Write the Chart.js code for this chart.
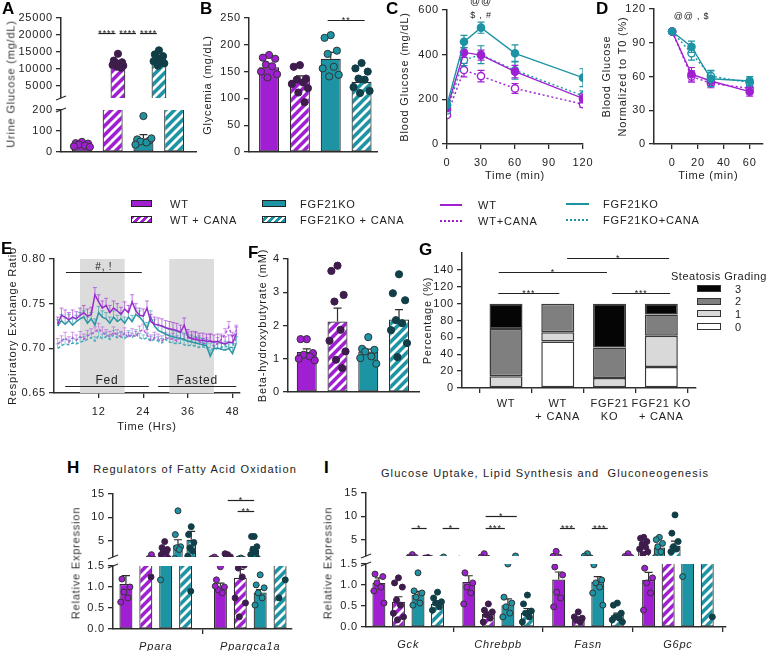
<!DOCTYPE html>
<html>
<head>
<meta charset="utf-8">
<title>FGF21KO and canagliflozin</title>
<script src="https://cdn.jsdelivr.net/npm/chart.js@4.4.1/dist/chart.umd.min.js"></script>
<style>
  body { margin: 0; background: #fff; }
  #fig { position: relative; width: 768px; height: 651px; overflow: hidden; font-family: "Liberation Sans", Arial, sans-serif; color: #222; }
  #fig canvas { position: absolute; }
  .t { position: absolute; white-space: nowrap; font-size: 11px; line-height: 1; letter-spacing: 0.8px; }
  .lt { position: absolute; font-size: 17px; font-weight: bold; line-height: 1; color: #000; }
  .sw { position: absolute; box-sizing: border-box; }
</style>
</head>
<body>
<div id="fig"></div>
<script>
// ---------- data ----------
const GROUPS = ['WT', 'WT + CANA', 'FGF21KO', 'FGF21KO + CANA'];

// A - urine glucose (mg/dL)
const urineMean = [30, 11500, 65, 12800];
const urineSem = [6, 550, 18, 480];
const urineDots = [
  [48, 42, 40, 35, 30, 27, 24],
  [14500, 12500, 12000, 11800, 11500, 11200, 11000, 10700, 10400],
  [171, 60, 55, 50, 45, 35, 65],
  [15500, 14300, 13800, 13200, 12800, 12300, 11700, 11000, 12600]
];

// B - glycemia (mg/dL)
const glyMean = [158, 135, 174, 131];
const glySem = [7, 7, 12, 8];
const glyDots = [
  [181, 176, 174, 163, 160, 150, 145, 139],
  [162, 159, 137, 135, 130, 127, 119, 111, 93],
  [218, 213, 189, 183, 159, 156, 144, 141],
  [166, 156, 150, 137, 135, 121, 114, 110]
];

// C - glucose tolerance (mg/dL)
const gttTime = [0, 15, 30, 60, 120];
const gttWT = [160, 410, 398, 324, 204];
const gttWTCana = [130, 331, 304, 249, 178];
const gttKO = [175, 458, 521, 406, 297];
const gttKOCana = [150, 376, 400, 330, 216];
const gttWTSem = [10, 22, 22, 28, 20];
const gttWTCanaSem = [10, 30, 26, 22, 14];
const gttKOSem = [10, 28, 25, 38, 40];
const gttKOCanaSem = [10, 25, 40, 40, 22];

// D - normalized to T0 (%)
const normTime = [0, 15, 30, 60];
const normWT = [100, 62, 56, 46.5];
const normWTCana = [100, 60, 54, 49.5];
const normKO = [100, 86.5, 58, 56];
const normKOCana = [100, 80.6, 60.4, 54.5];
const normWTSem = [0, 6, 4, 4];
const normWTCanaSem = [0, 5, 4, 4];
const normKOSem = [0, 5, 7, 4];
const normKOCanaSem = [0, 6, 5, 4];

// E - respiratory exchange ratio, hourly
const ereHours = [1, 2, 3, 4, 5, 6, 7, 8, 9, 10, 11, 12, 13, 14, 15, 16, 17, 18, 19, 20, 21, 22, 23, 24, 25,
  26, 27, 28, 29, 30, 31, 32, 33, 34, 35, 36, 37, 38, 39, 40, 41, 42, 43, 44, 45, 46, 47, 48, 49];
const ereWT = [0.727, 0.737, 0.735, 0.732, 0.735, 0.733, 0.737, 0.740, 0.736, 0.738,
  0.760, 0.752, 0.745, 0.748, 0.740, 0.745, 0.742, 0.738, 0.744, 0.740,
  0.752, 0.742, 0.737, 0.736, 0.745, 0.730, 0.727, 0.726, 0.725, 0.723,
  0.722, 0.721, 0.720, 0.718, 0.726, 0.713, 0.711, 0.710, 0.709, 0.709,
  0.708, 0.708, 0.707, 0.708, 0.706, 0.705, 0.707, 0.706, 0.716];
const ereKO = [0.725, 0.731, 0.727, 0.731, 0.726, 0.730, 0.733, 0.735, 0.728, 0.733,
  0.726, 0.740, 0.735, 0.733, 0.728, 0.735, 0.730, 0.733, 0.728, 0.735,
  0.730, 0.738, 0.735, 0.730, 0.722, 0.735, 0.725, 0.720, 0.718, 0.716,
  0.714, 0.713, 0.712, 0.711, 0.710, 0.708, 0.707, 0.706, 0.705, 0.704,
  0.703, 0.691, 0.700, 0.700, 0.699, 0.698, 0.700, 0.694, 0.706];
const ereWTCana = [0.705, 0.708, 0.712, 0.707, 0.712, 0.709, 0.713, 0.710, 0.714, 0.716,
  0.718, 0.722, 0.718, 0.715, 0.713, 0.718, 0.715, 0.713, 0.717, 0.712,
  0.716, 0.713, 0.719, 0.721, 0.715, 0.709, 0.712, 0.710, 0.708, 0.712,
  0.710, 0.711, 0.708, 0.712, 0.710, 0.712, 0.710, 0.713, 0.708, 0.705,
  0.706, 0.710, 0.702, 0.706, 0.710, 0.716, 0.724, 0.712, 0.720];
const ereKOCana = [0.700, 0.703, 0.705, 0.704, 0.706, 0.705, 0.707, 0.708, 0.710, 0.712,
  0.708, 0.714, 0.711, 0.713, 0.710, 0.715, 0.712, 0.713, 0.711, 0.715,
  0.712, 0.716, 0.712, 0.710, 0.712, 0.708, 0.710, 0.708, 0.706, 0.710,
  0.707, 0.706, 0.705, 0.706, 0.704, 0.703, 0.704, 0.702, 0.701, 0.702,
  0.700, 0.701, 0.698, 0.700, 0.701, 0.703, 0.700, 0.702, 0.712];
const ereSem = [0.008, 0.006, 0.007, 0.005]; // WT, WT+CANA, KO, KO+CANA
const darkPhases = [[7, 19], [31, 43]];

// F - beta-hydroxybutyrate (mM)
const bhbMean = [1.2, 2.12, 1.22, 2.18];
const bhbSem = [0.1, 0.4, 0.07, 0.3];
const bhbDots = [
  [1.59, 1.59, 1.17, 1.12, 1.07, 1.0, 0.95],
  [3.8, 3.64, 2.92, 2.72, 1.87, 1.54, 1.22, 0.97, 0.72],
  [1.65, 1.3, 1.27, 1.22, 1.07, 1.02, 0.85],
  [3.54, 2.97, 2.76, 2.16, 2.07, 1.86, 1.47, 1.05]
];

// G - steatosis grading (%)
const steatosisGroups = [['WT'], ['WT', '+ CANA'], ['FGF21', 'KO'], ['FGF21 KO', '+ CANA']];
const gradeNames = ['0', '1', '2', '3'];
const grade0 = [0, 55, 0, 25];
const grade1 = [14, 11, 12, 37];
const grade2 = [56, 34, 36, 25];
const grade3 = [30, 0, 52, 13];

// H - fatty acid oxidation genes, [group][gene]
const faoGenes = ['Ppara', 'Ppargca1a'];
const faoMean = [[1.07, 1.02], [2.7, 1.22], [4.0, 0.87], [5.2, 3.0]];
const faoSem = [[0.2, 0.07], [0.5, 0.2], [1.2, 0.07], [1.8, 0.7]];
const faoDots = [
  [[2.0, 1.19, 1.0, 0.88, 0.74, 0.64], [1.48, 1.17, 1.0, 0.93, 0.86, 1.02]],
  [[4.8, 3.5, 3.1, 2.8, 2.5, 2.0, 1.24], [2.0, 2.2, 1.52, 1.45, 1.24, 0.74, 0.62, 0.29]],
  [[11.4, 6.3, 3.7, 3.5, 3.1, 1.17], [1.29, 1.05, 0.98, 0.86, 0.74, 0.57]],
  [[8.0, 6.3, 4.6, 3.5, 2.8, 1.7, 0.9], [5.9, 5.9, 3.7, 3.1, 2.5, 2.0, 1.17, 0.74]]
];

// I - glucose uptake / lipid synthesis / gluconeogenesis genes, [group][gene]
const gluGenes = ['Gck', 'Chrebpb', 'Fasn', 'G6pc'];
const gluMean = [[1.05, 1.07, 1.13, 1.12], [0.6, 0.31, 0.2, 3.6], [0.77, 0.52, 1.07, 3.3], [0.55, 0.34, 0.28, 3.7]];
const gluSem = [[0.12, 0.15, 0.18, 0.18], [0.12, 0.05, 0.04, 0.5], [0.08, 0.15, 0.13, 0.6], [0.07, 0.1, 0.05, 1.0]];
const gluDots = [
  [[1.8, 1.26, 1.2, 1.05, 0.95, 0.86, 0.57], [2.0, 1.29, 1.05, 0.95, 0.81, 0.55], [2.5, 1.43, 1.24, 0.83, 0.69, 0.48], [2.0, 1.4, 1.17, 1.05, 0.81, 0.4]],
  [[1.17, 1.05, 0.95, 0.64, 0.52, 0.33, 0.24, 0.17], [0.55, 0.4, 0.36, 0.29, 0.21, 0.12], [0.36, 0.24, 0.21, 0.17, 0.12], [5.5, 5.3, 4.6, 4.0, 3.5, 3.0, 2.4, 1.9]],
  [[1.29, 0.86, 0.81, 0.71, 0.57, 0.52], [1.5, 0.71, 0.57, 0.48, 0.33, 0.24], [2.0, 1.48, 1.12, 1.05, 0.95, 0.81, 0.52], [5.5, 5.0, 4.2, 3.5, 2.4, 1.2]],
  [[0.83, 0.69, 0.6, 0.57, 0.48, 0.4], [0.76, 0.55, 0.38, 0.33, 0.24, 0.12], [0.57, 0.52, 0.33, 0.24, 0.21, 0.17, 0.12], [10.3, 6.4, 4.6, 3.5, 3.0, 2.4, 0.24]]
];

// ---------- style ----------
const FONT = '"Liberation Sans", Arial, sans-serif';
const INK = '#2d2d2d';
const PURPLE = '#a11fd2', TEAL = '#1c94a4';
const fig = document.getElementById('fig');

Chart.defaults.font.family = FONT;
Chart.defaults.font.size = 11;
Chart.defaults.color = '#222';
Chart.defaults.plugins.legend.display = false;
Chart.defaults.plugins.tooltip.enabled = false;

function hatch(color) {
  const c = document.createElement('canvas');
  c.width = c.height = 9;
  const g = c.getContext('2d');
  g.fillStyle = color; g.fillRect(0, 0, 9, 9);
  g.strokeStyle = '#fff'; g.lineWidth = 2.8;
  g.beginPath();
  g.moveTo(-1, 10); g.lineTo(10, -1);
  g.moveTo(-5, 5); g.lineTo(5, -5);
  g.moveTo(4, 14); g.lineTo(14, 4);
  g.stroke();
  return g.createPattern(c, 'repeat');
}
const FILL = [PURPLE, hatch(PURPLE), TEAL, hatch(TEAL)];
const DOT = [PURPLE, '#3e1d4c', TEAL, '#113e47'];
const DOT_EDGE = ['#333', '#3e1d4c', '#333', '#113e47'];
const JIT = [0, -0.2, 0.2, -0.1, 0.1, -0.26, 0.26, -0.05, 0.15];

// wider letter spacing like the original export
Chart.register({
  id: 'spacing',
  beforeLayout(c) { c.ctx.letterSpacing = '0.8px'; },
  beforeDraw(c) { c.ctx.letterSpacing = '0.8px'; }
});

function drawErr(chart, meta, ds) {
  if (ds.err == null) return;
  const { ctx, chartArea: a } = chart, ys = chart.scales.y;
  ctx.save();
  ctx.beginPath(); ctx.rect(a.left, a.top, a.right - a.left, a.bottom - a.top); ctx.clip();
  ctx.strokeStyle = ds.errColor || INK; ctx.lineWidth = ds.errWidth || 1.2;
  const cap = ds.cap || 4;
  meta.data.forEach((el, i) => {
    const e = Array.isArray(ds.err) ? ds.err[i] : ds.err;
    if (!e) return;
    const v = ds.data[i].y, x = el.x;
    const hi = ys.getPixelForValue(v + e), lo = ys.getPixelForValue(ds.errUp ? v : v - e);
    ctx.beginPath();
    ctx.moveTo(x, hi); ctx.lineTo(x, lo);
    ctx.moveTo(x - cap, hi); ctx.lineTo(x + cap, hi);
    if (!ds.errUp) { ctx.moveTo(x - cap, lo); ctx.lineTo(x + cap, lo); }
    ctx.stroke();
  });
  ctx.restore();
}
Chart.register({
  id: 'errorBars',
  beforeDatasetDraw(chart, args) { if (args.meta.type !== 'bar') drawErr(chart, args.meta, chart.data.datasets[args.index]); },
  afterDatasetDraw(chart, args) { if (args.meta.type === 'bar') drawErr(chart, args.meta, chart.data.datasets[args.index]); }
});

// significance bars / free labels, in data units
function notes(lines, labels = []) {
  return {
    id: 'notes',
    afterDatasetsDraw(chart) {
      const { ctx } = chart, xs = chart.scales.x, ys = chart.scales.y;
      ctx.save();
      ctx.letterSpacing = '0.8px';
      ctx.strokeStyle = '#222'; ctx.fillStyle = '#222'; ctx.lineWidth = 1.2;
      ctx.textAlign = 'center'; ctx.textBaseline = 'alphabetic';
      lines.forEach(([x1, x2, y, t, size]) => {
        const p1 = xs.getPixelForValue(x1), p2 = xs.getPixelForValue(x2);
        const py = Math.round(ys.getPixelForValue(y)) + 0.5;
        ctx.beginPath(); ctx.moveTo(p1, py); ctx.lineTo(p2, py); ctx.stroke();
        if (t) {
          ctx.font = `${size || 9}px ${FONT}`;
          ctx.fillText(t, (p1 + p2) / 2, /^\*+$/.test(t) ? py + 2 : py - 3);
        }
      });
      ctx.textBaseline = 'middle';
      labels.forEach(([x, y, t, size]) => {
        ctx.font = `${size || 10}px ${FONT}`;
        ctx.fillText(t, xs.getPixelForValue(x), ys.getPixelForValue(y));
      });
      ctx.restore();
    }
  };
}

function breakMark(where) {
  return {
    id: 'breakMark',
    afterDraw(chart) {
      const { ctx, chartArea: a } = chart;
      const y = where === 'bottom' ? a.bottom : a.top;
      ctx.save(); ctx.strokeStyle = INK; ctx.lineWidth = 1.3;
      ctx.beginPath(); ctx.moveTo(a.left - 5, y + 2); ctx.lineTo(a.left + 5, y - 2); ctx.stroke();
      ctx.restore();
    }
  };
}

function bands(ranges, color) {
  return {
    id: 'bands',
    beforeDatasetsDraw(chart) {
      const { ctx, chartArea: a, scales: { x } } = chart;
      ctx.save(); ctx.fillStyle = color;
      ranges.forEach(([s, e]) => {
        const p1 = x.getPixelForValue(s), p2 = x.getPixelForValue(e);
        ctx.fillRect(p1, a.top, p2 - p1, a.bottom - a.top);
      });
      ctx.restore();
    }
  };
}

// ---------- layout helpers ----------
function place(box, m) {
  const [l, t, r, b] = box;
  const cv = document.createElement('canvas');
  const w = r - l + m.l + m.r, h = b - t + m.t + m.b;
  cv.width = w; cv.height = h;
  cv.style.left = (l - m.l) + 'px'; cv.style.top = (t - m.t) + 'px';
  cv.style.width = w + 'px'; cv.style.height = h + 'px';
  fig.appendChild(cv);
  return cv;
}

function mk(box, m, cfg, xHidden) {
  const cv = place(box, m);
  Object.assign(cfg.options, {
    responsive: false, animation: false, devicePixelRatio: 1,
    layout: { padding: { left: 0, top: m.t, right: m.r, bottom: xHidden ? m.b : 0 } }
  });
  return new Chart(cv, cfg);
}

function yAxis(min, max, ticks, fmt, width, title, extra) {
  return Object.assign({
    type: 'linear', min, max,
    afterBuildTicks: s => { s.ticks = ticks.map(v => ({ value: v })); },
    afterFit: s => { s.width = width; },
    ticks: { callback: v => fmt(v), padding: 3, color: '#222', font: { size: 11 } },
    grid: { drawOnChartArea: false, tickLength: 5, color: INK, lineWidth: 1.3 },
    border: { color: INK, width: 1.5 },
    title: title ? { display: true, text: title, padding: 0, color: '#222', font: { size: 11 } } : { display: false }
  }, extra || {});
}

function xAxis(min, max, tickVals, labels, height, pad, extra) {
  return Object.assign({
    type: 'linear', min, max, offset: false,
    afterBuildTicks: s => { s.ticks = tickVals.map(v => ({ value: v })); },
    afterFit: s => { s.height = height; },
    ticks: { callback: (v, i) => labels[i], padding: pad, color: '#222', maxRotation: 0, autoSkip: false, font: { size: 11 } },
    grid: { drawOnChartArea: false, tickLength: 5, color: INK, lineWidth: 1.3 },
    border: { color: INK, width: 1.5 }
  }, extra || {});
}

function xBare(min, max, height) {
  return {
    type: 'linear', min, max, offset: false,
    afterFit: s => { s.height = height; },
    ticks: { display: false }, grid: { display: false },
    border: { color: INK, width: 1.5 }
  };
}

// bars (mean) + individual animals, grouped by gene
function barPanel(o) {
  const pos = (g, j) => g * (o.gap || 0) + j;
  const datasets = [];
  GROUPS.forEach((name, j) => {
    datasets.push({
      type: 'bar', label: name, order: 2, grouped: false, maxBarThickness: o.barW, clip: 0,
      data: o.mean[j].map((v, g) => ({ x: pos(g, j), y: v })), err: o.sem[j], errUp: true,
      backgroundColor: FILL[j], borderColor: INK, borderWidth: 1.2, borderSkipped: false
    });
  });
  GROUPS.forEach((name, j) => {
    datasets.push({
      type: 'scatter', label: name + ' animals', order: 1, clip: 0,
      data: o.dots[j].flatMap((vals, g) => vals.map((v, i) => ({ x: pos(g, j) + JIT[i % JIT.length], y: v }))),
      pointRadius: o.r, pointBackgroundColor: DOT[j], pointBorderColor: DOT_EDGE[j], pointBorderWidth: 1
    });
  });
  const x = o.genes
    ? xAxis(o.xMin, o.xMax, o.genes.map((_, g) => pos(g, 1.5)), o.genes, o.m.b, 6,
        { ticks: { callback: (v, i) => o.genes[i], padding: 6, color: '#222', maxRotation: 0, autoSkip: false, font: { size: 11, style: 'italic' } } })
    : o.xHidden ? { type: 'linear', min: o.xMin, max: o.xMax, display: false } : xBare(o.xMin, o.xMax, o.m.b);
  const plugins = [notes(o.sig || [])];
  if (o.brk) plugins.push(breakMark(o.brk));
  return mk(o.box, o.m, {
    type: 'bar',
    data: { datasets },
    options: { scales: { x, y: yAxis(o.y[0], o.y[1], o.y[2], o.fmt || (v => v), o.m.l, o.title) } },
    plugins
  }, o.xHidden);
}

function lineDs(label, xs, ys, err, color, open) {
  return {
    label, data: xs.map((x, i) => ({ x, y: ys[i] })), err, errColor: color, cap: 3.5,
    borderColor: color, borderWidth: 1.4, borderDash: open ? [2, 2.5] : [], tension: 0,
    pointRadius: 3.6, pointBorderWidth: 1.4, pointBorderColor: color,
    pointBackgroundColor: open ? '#fff' : color
  };
}

// ---------- A ----------
const A = { xMin: -0.68, xMax: 3.71, barW: 20, r: 3.6,
  mean: urineMean.map(v => [v]), sem: urineSem.map(v => [v]), dots: urineDots.map(a => [a]) };
barPanel(Object.assign({}, A, {
  box: [61, 18, 197, 98], m: { l: 50, t: 12, r: 4, b: 12 }, xHidden: true, brk: 'bottom',
  y: [1500, 25000, [5000, 10000, 15000, 20000, 25000]],
  sig: [[0.05, 0.88, 20600, '****'], [1.08, 1.88, 20600, '****'], [2.08, 2.9, 20600, '****']]
}));
barPanel(Object.assign({}, A, {
  box: [61, 110, 197, 152], m: { l: 50, t: 12, r: 4, b: 12 }, brk: 'top',
  y: [0, 200, [0, 50, 100, 150, 200]]
}));

// ---------- B ----------
barPanel({
  box: [249, 18, 378, 152], m: { l: 48, t: 12, r: 4, b: 12 }, xMin: -0.65, xMax: 3.5, barW: 20, r: 3.6,
  mean: glyMean.map(v => [v]), sem: glySem.map(v => [v]), dots: glyDots.map(a => [a]),
  y: [0, 250, [0, 50, 100, 150, 200, 250]], title: 'Glycemia (mg/dL)',
  sig: [[1.9, 3.1, 247, '**']]
});

// ---------- C ----------
mk([447, 10, 583, 144], { l: 49, t: 12, r: 18, b: 39 }, {
  type: 'line',
  data: { datasets: [
    lineDs('FGF21KO', gttTime, gttKO, gttKOSem, TEAL, false),
    lineDs('WT', gttTime, gttWT, gttWTSem, PURPLE, false),
    lineDs('FGF21KO+CANA', gttTime, gttKOCana, gttKOCanaSem, TEAL, true),
    lineDs('WT+CANA', gttTime, gttWTCana, gttWTCanaSem, PURPLE, true)
  ] },
  options: { scales: {
    x: xAxis(0, 120, [0, 30, 60, 90, 120], ['0', '30', '60', '90', '120'], 39, 7,
      { title: { display: true, text: 'Time (min)', padding: 0, color: '#222', font: { size: 11 } } }),
    y: yAxis(0, 600, [0, 200, 400, 600], v => v, 49, 'Blood Glucose (mg/dL)')
  } },
  plugins: [notes([], [[30, 640, '@@', 10], [30, 575, '$ , #', 9]])]
});

// ---------- D ----------
mk([654, 9, 767, 144], { l: 55, t: 12, r: 1, b: 39 }, {
  type: 'line',
  data: { datasets: [
    lineDs('FGF21KO', normTime, normKO, normKOSem, TEAL, false),
    lineDs('WT', normTime, normWT, normWTSem, PURPLE, false),
    lineDs('FGF21KO+CANA', normTime, normKOCana, normKOCanaSem, TEAL, true),
    lineDs('WT+CANA', normTime, normWTCana, normWTCanaSem, PURPLE, true)
  ] },
  options: { scales: {
    x: xAxis(-14, 70, [0, 20, 40, 60], ['0', '20', '40', '60'], 39, 7,
      { title: { display: true, text: 'Time (min)', padding: 0, color: '#222', font: { size: 11 } } }),
    y: yAxis(0, 120, [0, 30, 60, 90, 120], v => v, 55, null,
      { title: { display: true, text: ['Blood Glucose', 'Normalized to T0 (%)'], padding: 0, color: '#222', font: { size: 11, lineHeight: 1.45 } } })
  } },
  plugins: [notes([], [[15, 113, '@@ , $', 9]])]
});

// ---------- E ----------
function ereDs(label, vals, sem, color, dash) {
  return {
    label, data: ereHours.map((h, i) => ({ x: h, y: vals[i] })), err: sem, errUp: true, cap: 2,
    errColor: color + '99', errWidth: 1, borderColor: color, borderWidth: 1.5, borderDash: dash,
    pointRadius: 0, tension: 0
  };
}
mk([54, 259, 240, 393], { l: 48, t: 12, r: 8, b: 41 }, {
  type: 'line',
  data: { datasets: [
    ereDs('WT', ereWT, ereSem[0], '#9a2ad0', []),
    ereDs('FGF21KO', ereKO, ereSem[2], '#2a95a5', []),
    ereDs('WT+CANA', ereWTCana, ereSem[1], '#b45cdc', [3, 2]),
    ereDs('FGF21KO+CANA', ereKOCana, ereSem[3], '#45aabb', [3, 2])
  ] },
  options: { scales: {
    x: xAxis(0, 50, [12, 24, 36, 48], ['12', '24', '36', '48'], 41, 7,
      { title: { display: true, text: 'Time (Hrs)', padding: 0, color: '#222', font: { size: 11 } } }),
    y: yAxis(0.65, 0.80, [0.65, 0.70, 0.75, 0.80], v => v.toFixed(2), 48, 'Respiratory Exchange Ratio')
  } },
  plugins: [bands(darkPhases, '#dcdcdc'),
    notes([[3.2, 23.6, 0.785, '#, !', 10], [3, 25.5, 0.6575, 'Fed', 12], [28, 49, 0.6575, 'Fasted', 12]])]
});

// ---------- F ----------
barPanel({
  box: [288, 259, 420, 392], m: { l: 32, t: 12, r: 4, b: 12 }, xMin: -0.61, xMax: 3.65, barW: 20, r: 3.6,
  mean: bhbMean.map(v => [v]), sem: bhbSem.map(v => [v]), dots: bhbDots.map(a => [a]),
  y: [0, 4, [0, 1, 2, 3, 4]], title: 'Beta-hydroxybutyrate (mM)'
});

// ---------- G ----------
const gradeColors = ['#ffffff', '#d9d9d9', '#7f7f7f', '#050505'];
mk([462, 253, 696, 388], { l: 41, t: 12, r: 4, b: 35 }, {
  type: 'bar',
  data: { datasets: [grade0, grade1, grade2, grade3].map((vals, k) => ({
    label: 'Grade ' + gradeNames[k], grouped: false, maxBarThickness: 33,
    data: vals.map((v, i) => ({ x: i, y: v })),
    backgroundColor: gradeColors[k], borderColor: '#3a3a3a', borderWidth: 1.5, borderSkipped: false
  })) },
  options: { scales: {
    x: xAxis(-0.85, 3.67, [0, 1, 2, 3], steatosisGroups, 35, 4, { stacked: true }),
    y: yAxis(0, 160, [0, 20, 40, 60, 80, 100, 120, 140], v => v, 41, 'Percentage (%)', { stacked: true })
  } },
  plugins: [notes([
    [-0.15, 1.03, 113, '***'], [2.05, 3.17, 113, '***'],
    [-0.14, 1.95, 138, '*'], [1.18, 3.15, 154, '*']
  ])]
});

// ---------- H ----------
const H = { xMin: -0.65, xMax: 8.35, gap: 4.75, barW: 13, r: 3, mean: faoMean, sem: faoSem, dots: faoDots };
barPanel(Object.assign({}, H, {
  box: [113, 494, 293, 557], m: { l: 40, t: 12, r: 4, b: 12 }, xHidden: true, brk: 'bottom',
  y: [1.5, 15, [5, 10, 15]],
  sig: [[5.75, 7.75, 13.7, '*'], [6.5, 7.75, 11.3, '**']]
}));
barPanel(Object.assign({}, H, {
  box: [113, 566, 293, 629], m: { l: 40, t: 12, r: 4, b: 25 }, brk: 'top', genes: faoGenes,
  y: [0, 1.5, [0, 0.5, 1.0, 1.5]], fmt: v => v.toFixed(1)
}));

// ---------- I ----------
const I = { xMin: -0.66, xMax: 17.76, gap: 4.6, barW: 13, r: 3, mean: gluMean, sem: gluSem, dots: gluDots };
barPanel(Object.assign({}, I, {
  box: [366, 493, 727, 556], m: { l: 40, t: 12, r: 4, b: 12 }, xHidden: true, brk: 'bottom',
  y: [1.5, 15, [5, 10, 15]],
  sig: [[-0.05, 0.92, 7.5, '*'], [1.94, 3.0, 7.5, '*'],
        [4.69, 6.68, 10.1, '*'], [4.69, 5.92, 7.5, '***'],
        [9.44, 10.4, 7.5, '***'], [11.48, 12.5, 7.5, '***']]
}));
barPanel(Object.assign({}, I, {
  box: [366, 564, 727, 627], m: { l: 40, t: 12, r: 4, b: 25 }, brk: 'top', genes: gluGenes,
  y: [0, 1.5, [0, 0.5, 1.0, 1.5]], fmt: v => v.toFixed(1)
}));

// ---------- html text, legends ----------
function txt(s, x, y, css) {
  const d = document.createElement('div');
  d.className = 't'; d.textContent = s;
  d.style.cssText = `left:${x}px;top:${y}px;transform:translateY(-50%);` + (css || '');
  fig.appendChild(d);
  return d;
}
function swatch(x, y, w, h, css) {
  const d = document.createElement('div');
  d.className = 'sw';
  d.style.cssText = `left:${x}px;top:${y}px;width:${w}px;height:${h}px;` + css;
  fig.appendChild(d);
}
function letter(s, x, y) {
  const d = document.createElement('div');
  d.className = 'lt'; d.textContent = s;
  d.style.left = x + 'px'; d.style.top = y + 'px';
  fig.appendChild(d);
}

[['A', 2, 0], ['B', 200, 0], ['C', 386, 0], ['D', 596, 0], ['E', 1, 240], ['F', 248, 244],
 ['G', 419, 241], ['H', 67, 459], ['I', 324, 459]].forEach(a => letter(...a));

const rot = 'transform:translate(-50%,-50%) rotate(-90deg);color:#333;';
txt('Urine Glucose (mg/dL)', 11, 84, rot);
txt('Relative Expression', 76, 563, rot);
txt('Relative Expression', 328, 563, rot);
txt('Regulators of Fatty Acid Oxidation', 195, 469, 'transform:translate(-50%,-50%);letter-spacing:1.1px;');
txt('Glucose Uptake, Lipid Synthesis and  Gluconeogenesis', 545, 473, 'transform:translate(-50%,-50%);letter-spacing:1.1px;white-space:pre;');

// group legend (bars / lines)
const hatchCss = c => `background:repeating-linear-gradient(-45deg, ${c} 0 3px, #fff 3px 5px);`;
const dotCss = c => `background:repeating-linear-gradient(90deg, ${c} 0 2px, transparent 2px 4px);`;
swatch(131, 200, 21, 7, `background:${PURPLE};border:1.2px solid #222;`);
swatch(131, 216, 21, 7, hatchCss(PURPLE) + 'border:1.2px solid #222;');
swatch(262, 200, 24, 7, `background:${TEAL};border:1.2px solid #222;`);
swatch(262, 216, 24, 7, hatchCss(TEAL) + 'border:1.2px solid #222;');
txt(GROUPS[0], 170, 204); txt(GROUPS[1], 170, 220);
txt(GROUPS[2], 300, 204); txt(GROUPS[3], 300, 220);
swatch(440, 204, 22, 2, `background:${PURPLE};`);
swatch(440, 220, 22, 2, dotCss(PURPLE));
swatch(566, 203, 23, 2, `background:${TEAL};`);
swatch(566, 219, 23, 2, dotCss(TEAL));
txt('WT', 478, 205); txt('WT+CANA', 478, 221);
txt('FGF21KO', 603, 204); txt('FGF21KO+CANA', 603, 220);

// steatosis legend
txt('Steatosis Grading', 671, 276, 'font-size:11px;letter-spacing:0.5px;');
[3, 2, 1, 0].forEach((g, i) => {
  const y = 285 + i * 12.7;
  swatch(697, y, 24, 7, `background:${gradeColors[g]};border:1.5px solid #333;`);
  txt(gradeNames[g], 735, y + 3.5);
});
</script>
</body>
</html>
